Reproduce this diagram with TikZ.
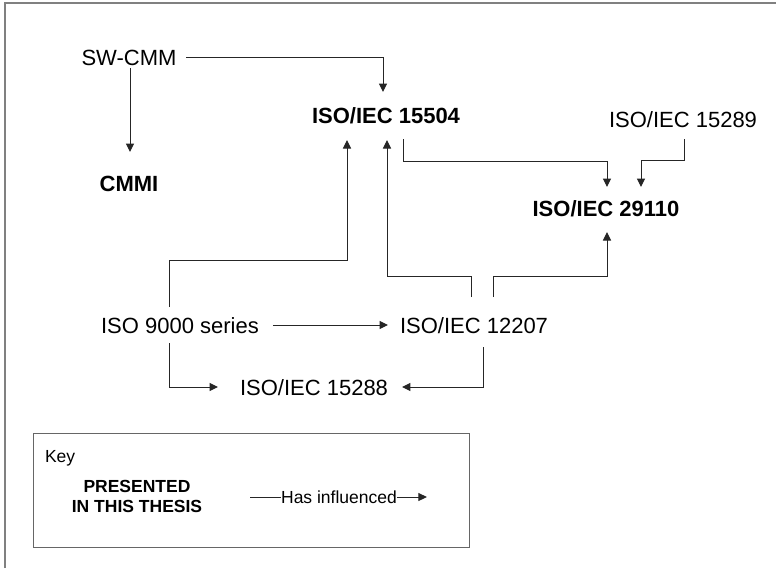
\documentclass[tikz,border=0pt]{standalone}
\usepackage{fontspec}
\setmainfont{Liberation Sans}
\usetikzlibrary{arrows.meta, positioning}

\begin{document}
\begin{tikzpicture}[
    x=1pt, y=-1pt,
    std/.style={inner sep=0pt, outer sep=0pt, text height=16pt, text depth=0pt,
        font=\fontsize{22}{26}\selectfont},
    stdbold/.style={std, font=\fontsize{22}{26}\selectfont\bfseries},
    keytext/.style={inner sep=0pt, outer sep=0pt, text height=12.5pt, text depth=0pt,
        font=\fontsize{17.5}{20}\selectfont},
    link/.style={draw=black!85, line width=1pt, -{Triangle[length=8.5pt, width=8pt]}},
    frame/.style={draw=black!50, line width=1.5pt}
]
\useasboundingbox (0,0) rectangle (776,568);

% --- Marco ---
\draw[frame] (5,568) |- (776,3);

% --- Normas ---
\node[std] (sw) at (129,57) {SW-CMM};
\node[stdbold] (cmmi) at (129,183) {CMMI};
\node[stdbold] (n15504) at (386,115) {ISO/IEC 15504};
\node[std] (n15289) at (683,119) {ISO/IEC 15289};
\node[stdbold] (n29110) at (606,208) {ISO/IEC 29110};
\node[std] (n9000) at (180,325) {ISO 9000 series};
\node[std] (n12207) at (474,325) {ISO/IEC 12207};
\node[std] (n15288) at (314,387) {ISO/IEC 15288};

% --- Influencias ---
\draw[link, shorten <=10pt, shorten >=15pt] (sw.east) -| ([xshift=-3pt]n15504.north);
\draw[link, shorten <=3pt, shorten >=23pt] ([xshift=1pt]sw.south) -- ([xshift=1pt]sw.south |- cmmi.north);

\draw[link, shorten <=16pt, shorten >=13pt] ([xshift=17pt]n15504.south) -- ++(0,38) -| ([xshift=1pt]n29110.north);
\draw[link, shorten <=12pt, shorten >=13pt] ([xshift=1pt]n15289.south) -- ++(0,33) -| ([xshift=35pt]n29110.north);

\draw[link, shorten <=20pt, shorten >=16pt] ([xshift=19pt]n12207.north) -- ++(0,-41) -| ([xshift=1pt]n29110.south);
\draw[link, shorten <=20pt, shorten >=17pt] ([xshift=-3pt]n12207.north) -- ++(0,-41) -| ([xshift=1pt]n15504.south);
\draw[link, shorten <=10pt, shorten >=17pt] ([xshift=-11pt]n9000.north) -- ++(0,-57) -| ([xshift=-39pt]n15504.south);

\draw[link, shorten <=14pt, shorten >=12pt] (n9000.east) -- (n12207.west);
\draw[link, shorten <=10pt, shorten >=22pt] ([xshift=-11pt]n9000.south) |- (n15288.west);
\draw[link, shorten <=14pt, shorten >=14pt] ([xshift=9pt]n12207.south) |- (n15288.east);

% --- Leyenda ---
\node[draw=black!60, line width=1pt, minimum width=436pt, minimum height=114pt, inner sep=0pt] (keybox) at (251,490) {};
\node[keytext, anchor=west] (keylbl) at (45,456) {Key};
\node[keytext, font=\fontsize{17.5}{20}\selectfont\bfseries, align=center] (thesis) at (137,506) {PRESENTED\\IN THIS THESIS};
\coordinate (keystart) at (250,497);
\node[keytext] (influence) at (339,497) {Has influenced};
\draw[draw=black!85, line width=1pt] (keystart) -- (influence.west);
\draw[link] (influence.east) -- ++(30,0);

\end{tikzpicture}
\end{document}
